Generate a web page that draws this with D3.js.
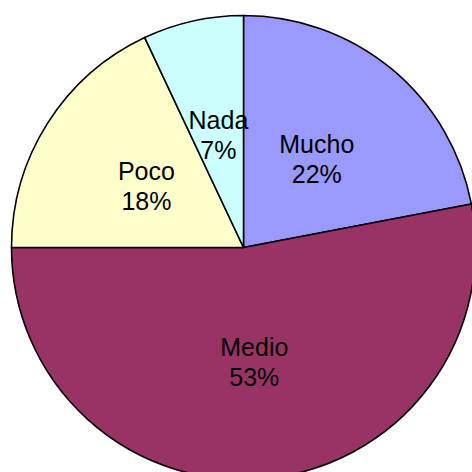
<!DOCTYPE html>
<html>
<head>
<meta charset="utf-8">
<script src="https://cdn.jsdelivr.net/npm/d3@7"></script>
<style>
  html, body { margin: 0; padding: 0; background: #fff; }
  svg { display: block; }
</style>
</head>
<body>
<svg id="main_svg" width="472" height="472"></svg>
<script>
// datos del gráfico
var labels = ["Mucho", "Medio", "Poco", "Nada"];
var values = [22, 53, 18, 7];
var colors = ["#9999FF", "#993366", "#FFFFCC", "#CCFFFF"];

var cx = 243.5, cy = 247.5, radius = 232, labelRadius = 115;

var svg = d3.select("#main_svg");

var data = labels.map(function(d, i) {
    return { label: d, value: values[i] };
});

var color = d3.scaleOrdinal()
    .domain(labels)
    .range(colors);

var pie = d3.pie()
    .sort(null)
    .value(function(d) { return d.value; });

var arc = d3.arc()
    .innerRadius(0)
    .outerRadius(radius);

var labelArc = d3.arc()
    .innerRadius(labelRadius)
    .outerRadius(labelRadius);

var g = svg.append("g")
    .attr("transform", "translate(" + cx + "," + cy + ")");

g.selectAll("path")
    .data(pie(data))
    .enter()
    .append("path")
    .attr("d", arc)
    .style("fill", function(d) { return color(d.data.label); })
    .style("stroke", "#000")
    .style("stroke-width", 1.6)
    .style("stroke-linejoin", "round");

var total = d3.sum(values);

var text = g.selectAll("text")
    .data(pie(data))
    .enter()
    .append("text")
    .attr("text-anchor", "middle")
    .attr("font-family", "'Liberation Sans', Arial, sans-serif")
    .attr("font-size", 25)
    .attr("fill", "#000")
    .attr("transform", function(d) {
        var c = labelArc.centroid(d);
        return "translate(" + c[0] + "," + c[1] + ")";
    });

text.append("tspan")
    .attr("x", 0)
    .attr("y", -6)
    .text(function(d) { return d.data.label; });

text.append("tspan")
    .attr("x", 0)
    .attr("y", 24)
    .text(function(d) { return Math.round(d.data.value / total * 100) + "%"; });
</script>
</body>
</html>
